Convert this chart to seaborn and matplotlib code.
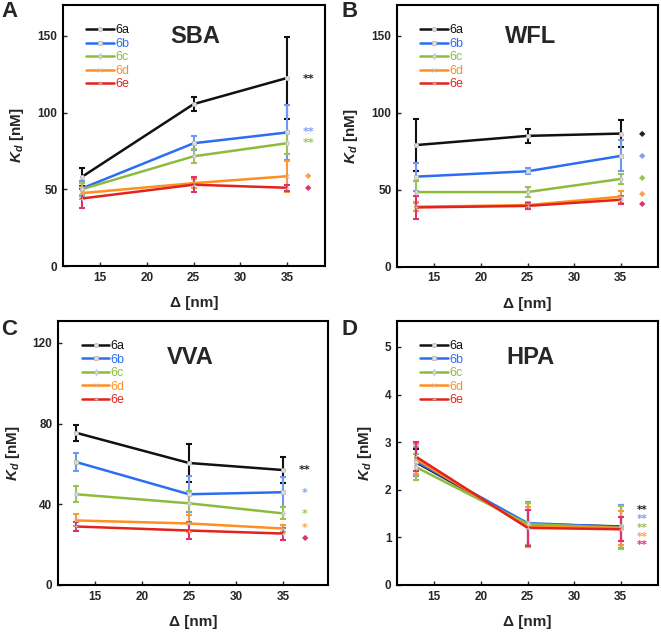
import numpy as np
import pandas as pd
import matplotlib
matplotlib.use("Agg")
import matplotlib.pyplot as plt
import seaborn as sns

sns.set_style("ticks")
plt.rcParams['font.family'] = ['Liberation Sans', 'DejaVu Sans']
plt.rcParams['mathtext.fontset'] = 'custom'
plt.rcParams['mathtext.it'] = 'Liberation Sans:italic:bold'
plt.rcParams['mathtext.rm'] = 'Liberation Sans:bold'

# data
DELTA = [13, 25, 35]
COMPOUNDS = ['6a', '6b', '6c', '6d', '6e']

SBA_KD = [[58, 105.5, 122.5], [50.5, 80, 87], [50, 71.5, 80], [47.5, 54, 58.5], [44, 53, 51]]
SBA_ERR = [[6, 4.3, 27], [5, 4.5, 18], [4, 4.5, 7], [4, 3, 10], [6, 5, 2]]
SBA_SIG = ['**', '**', '**', '\u25c6', '\u25c6']
SBA_SIG_Y = [122, 87, 80, 59, 51]

WFL_KD = [[79, 85, 86.5], [58.5, 62, 72], [48.5, 48.5, 57], [39, 40, 45.5], [38.5, 39.5, 43.5]]
WFL_ERR = [[17, 4.5, 8.5], [9, 2, 10], [7, 3, 3], [3, 2, 4], [7.5, 2, 2.5]]
WFL_SIG = ['\u25c6'] * 5
WFL_SIG_Y = [86.5, 72, 58, 47.5, 41]

VVA_KD = [[75.5, 60.5, 57], [61, 45, 46], [45, 40.5, 35.5], [32, 30.5, 28], [29, 27, 25.5]]
VVA_ERR = [[4, 9.5, 6.5], [4.5, 9, 7.5], [4, 6, 3], [3, 4, 1.5], [2, 4, 3]]
VVA_SIG = ['**', '*', '*', '*', '\u25c6']
VVA_SIG_Y = [57, 45.5, 35, 28.5, 23.5]

HPA_KD = [[2.58, 1.28, 1.23], [2.6, 1.3, 1.22], [2.48, 1.28, 1.2], [2.65, 1.22, 1.2], [2.7, 1.2, 1.17]]
HPA_ERR = [[0.28, 0.45, 0.45], [0.3, 0.45, 0.45], [0.27, 0.45, 0.45], [0.32, 0.42, 0.35], [0.3, 0.38, 0.25]]
HPA_SIG = ['**'] * 5
HPA_SIG_Y = [1.57, 1.38, 1.19, 1.0, 0.83]

LINE_COLORS = ['#111111', '#2b6ef2', '#8dbb3c', '#ff8f1f', '#e3231b']
ERR_COLORS = ['#111111', '#6f98f2', '#9cc256', '#f99a3a', '#e0306e']
SIG_COLORS = ['#222222', '#7f9ff5', '#9cc256', '#f6a44a', '#e0306e']
MARKERS = ['o', 's', 'd', 'x', '+']

fig = plt.figure(figsize=(6.61, 6.32), dpi=100)

panels = [
    ('A', 'SBA', SBA_KD, SBA_ERR, SBA_SIG, SBA_SIG_Y, [0.0953, 0.579, 0.396, 0.413], (11, 39.05), 170, [0, 50, 100, 150], (0.504, 0.878), (0.0, 1.0)),
    ('B', 'WFL', WFL_KD, WFL_ERR, WFL_SIG, WFL_SIG_Y, [0.6006, 0.578, 0.395, 0.414], (11, 39), 170, [0, 50, 100, 150], (0.51, 0.878), (0.515, 1.0)),
    ('C', 'VVA', VVA_KD, VVA_ERR, VVA_SIG, VVA_SIG_Y, [0.0877, 0.0744, 0.409, 0.418], (11.1, 39.8), 131, [0, 40, 80, 120], (0.49, 0.86), (0.0, 0.497)),
    ('D', 'HPA', HPA_KD, HPA_ERR, HPA_SIG, HPA_SIG_Y, [0.6006, 0.0744, 0.395, 0.418], (11, 39), 5.55, [0, 1, 2, 3, 4, 5], (0.51, 0.86), (0.515, 0.497)),
]

for letter, name, kd, err, sig, sig_y, pos, xlim, ytop, yticks, tpos, lpos in panels:
    ax = fig.add_axes(pos)
    rows = []
    for i, comp in enumerate(COMPOUNDS):
        for x, v in zip(DELTA, kd[i]):
            rows.append({'delta': x, 'kd': v, 'compound': comp})
    df = pd.DataFrame(rows)
    for i, comp in enumerate(COMPOUNDS):
        sub = df[df['compound'] == comp]
        ax.errorbar(sub['delta'], sub['kd'], yerr=err[i], fmt='none',
                    ecolor=ERR_COLORS[i], elinewidth=1.5, capsize=2.5, capthick=1.5, zorder=2)
        sns.lineplot(data=sub, x='delta', y='kd', ax=ax, color=LINE_COLORS[i],
                     linewidth=1.8, marker=MARKERS[i], markersize=3, mfc='#dddddd',
                     mec='#bbbbbb', mew=0.6, label=comp, zorder=3)
        is_dot = sig[i] == '\u25c6'
        ax.text(37.3, sig_y[i], sig[i], color=SIG_COLORS[i], ha='center', va='center',
                fontsize=6 if is_dot else (7.5 if name == 'HPA' else 8), fontweight='bold',
                family=['DejaVu Sans'])

    ax.set_xlim(*xlim)
    ax.set_ylim(0, ytop)
    ax.set_xticks([15, 20, 25, 30, 35])
    ax.set_yticks(yticks)
    ax.tick_params(direction='in', length=3, width=1, labelsize=8.5, pad=4)
    for lab in ax.get_xticklabels() + ax.get_yticklabels():
        lab.set_fontweight('bold')
    for sp in ax.spines.values():
        sp.set_visible(True)
        sp.set_linewidth(1.5)
        sp.set_color('black')
    ax.set_xlabel('\u0394 [nm]', fontsize=11, fontweight='bold', labelpad=9)
    ax.set_ylabel(r'$\mathit{K}_{\mathit{d}}$ [nM]', fontsize=11, fontweight='bold', labelpad=8)
    ax.text(tpos[0], tpos[1], name, transform=ax.transAxes, ha='center', va='center',
            fontsize=17, fontweight='bold')
    ax.legend(loc='upper left', bbox_to_anchor=(0.07, 0.945), frameon=False,
              fontsize=9, handlelength=2.2, handletextpad=0.1,
              labelspacing=0.12, borderaxespad=0, labelcolor='linecolor')
    # panel letter
    fig.text(lpos[0] + 0.002, lpos[1] - 0.002, letter, fontsize=16,
             fontweight='bold', ha='left', va='top')

fig.savefig('out.png', dpi=100)
